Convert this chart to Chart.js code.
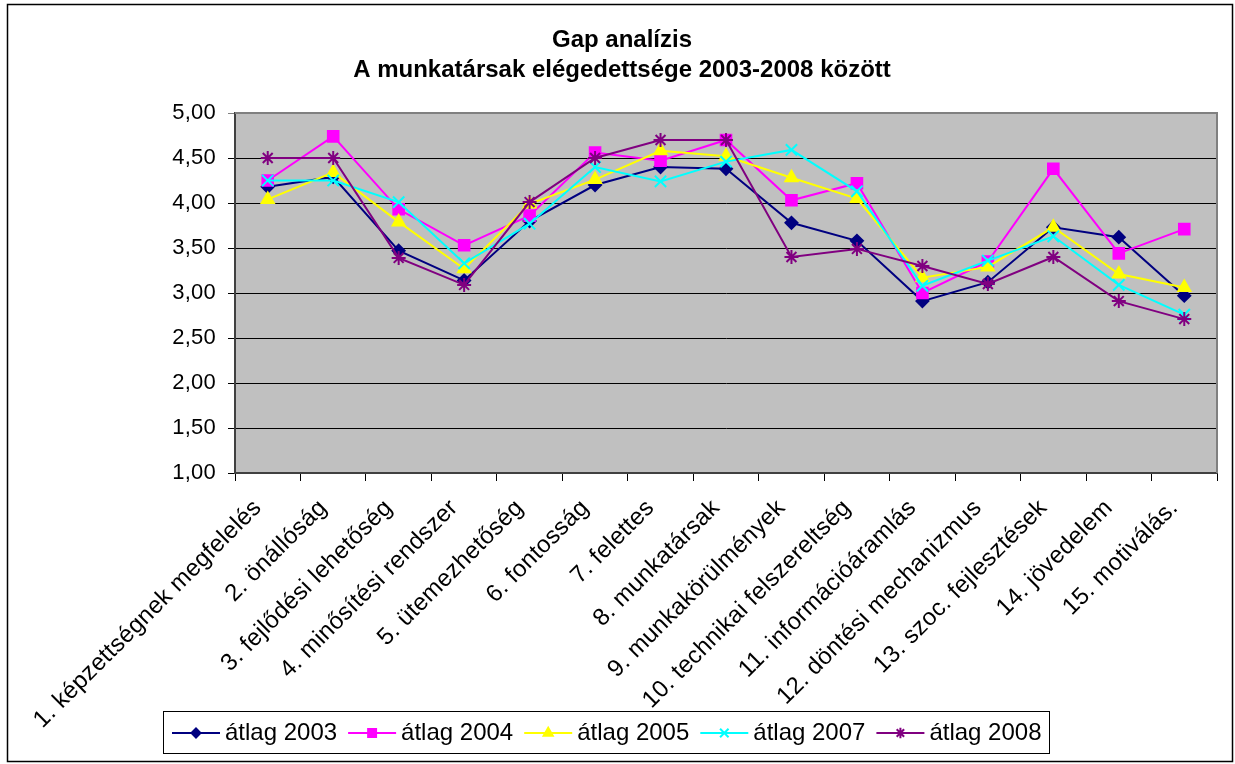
<!DOCTYPE html>
<html lang="hu">
<head>
<meta charset="utf-8">
<title>Gap analízis</title>
<script src="https://cdn.jsdelivr.net/npm/chart.js@4.4.1/dist/chart.umd.min.js"></script>
<style>
  html, body { margin: 0; padding: 0; background: #fff; }
  #wrap { width: 1235px; height: 764px; }
</style>
</head>
<body>
<div id="wrap"><canvas id="gapChart" width="1235" height="764"></canvas></div>
<script>
/* Gap analízis — munkatársi elégedettség 2003-2008 */

const categories = [
  "1. képzettségnek megfelelés", "2. önállóság", "3. fejlődési lehetőség",
  "4. minősítési rendszer", "5. ütemezhetőség", "6. fontosság", "7. felettes",
  "8. munkatársak", "9. munkakörülmények", "10. technikai felszereltség",
  "11. információáramlás", "12. döntési mechanizmus", "13. szoc. fejlesztések",
  "14. jövedelem", "15. motiválás."
];

const avg2003 = [4.18, 4.29, 3.47, 3.14, 3.80, 4.20, 4.40, 4.38, 3.78, 3.58, 2.91, 3.12, 3.73, 3.62, 2.97];
const avg2004 = [4.25, 4.74, 3.93, 3.53, 3.86, 4.56, 4.47, 4.70, 4.03, 4.22, 3.00, 3.35, 4.38, 3.44, 3.71];
const avg2005 = [4.04, 4.34, 3.79, 3.27, 3.99, 4.26, 4.58, 4.52, 4.28, 4.05, 3.17, 3.29, 3.73, 3.21, 3.06];
const avg2007 = [4.25, 4.25, 4.01, 3.33, 3.77, 4.40, 4.24, 4.46, 4.59, 4.13, 3.08, 3.36, 3.63, 3.09, 2.76];
const avg2008 = [4.50, 4.50, 3.39, 3.09, 4.01, 4.50, 4.70, 4.70, 3.40, 3.49, 3.30, 3.10, 3.40, 2.91, 2.71];

const seriesNames = ["átlag 2003", "átlag 2004", "átlag 2005", "átlag 2007", "átlag 2008"];
const yTicks = [1, 1.5, 2, 2.5, 3, 3.5, 4, 4.5, 5];
const titleLines = ["Gap analízis", "A munkatársak elégedettsége 2003-2008 között"];

const FONT = "'Liberation Sans', Arial, sans-serif";
const PLOT_BG = "#C0C0C0";

Chart.defaults.font.family = FONT;
Chart.defaults.color = "#000";

const seriesStyle = [
  { color: "#000080", point: "rectRot", radius: 6 },
  { color: "#FF00FF", point: "rect", radius: 7.5 },
  { color: "#FFFF00", point: "triangle", radius: 7 },
  { color: "#00FFFF", point: "crossRot", radius: 8 },
  { color: "#800080", point: "star", radius: 7 }
];

const seriesData = [avg2003, avg2004, avg2005, avg2007, avg2008];

const datasets = seriesData.map((values, i) => ({
  label: seriesNames[i],
  data: values,
  borderColor: seriesStyle[i].color,
  backgroundColor: seriesStyle[i].color,
  borderWidth: 2,
  pointStyle: seriesStyle[i].point,
  pointRadius: seriesStyle[i].radius,
  pointHoverRadius: seriesStyle[i].radius,
  pointBorderWidth: 2,
  pointBackgroundColor: seriesStyle[i].color,
  pointBorderColor: seriesStyle[i].color,
  tension: 0,
  order: seriesData.length - i // később felvett sorozat kerül felülre
}));

// háttér, cím, keret, szürke plot-keret, jelmagyarázat
const excelLook = {
  id: "excelLook",
  beforeDraw(chart) {
    const { ctx, chartArea: a } = chart;
    ctx.save();
    ctx.fillStyle = "#fff";
    ctx.fillRect(0, 0, chart.width, chart.height);
    ctx.fillStyle = PLOT_BG;
    ctx.fillRect(a.left, a.top, a.right - a.left, a.bottom - a.top);
    ctx.restore();
    // Excel kicsit szellősebben szedi a tengelyfeliratokat
    ctx.letterSpacing = "0.25px";
  },
  beforeDatasetsDraw(chart) {
    const { ctx, chartArea: a } = chart;
    ctx.save();
    ctx.strokeStyle = "#808080";
    ctx.lineWidth = 2;
    ctx.beginPath();
    ctx.moveTo(a.left, a.top);
    ctx.lineTo(a.right, a.top);
    ctx.lineTo(a.right, a.bottom);
    ctx.stroke();
    ctx.restore();
  },
  afterDraw(chart) {
    const { ctx } = chart;
    ctx.save();
    ctx.letterSpacing = "0px";

    // cím
    ctx.fillStyle = "#000";
    ctx.font = "bold 24px " + FONT;
    ctx.textAlign = "center";
    ctx.textBaseline = "middle";
    titleLines.forEach((t, i) => ctx.fillText(t, 622, 40 + i * 30));

    // külső keret
    ctx.strokeStyle = "#000";
    ctx.lineWidth = 1.5;
    ctx.strokeRect(7.5, 4.5, 1225, 757);

    // jelmagyarázat
    ctx.lineWidth = 1;
    ctx.strokeRect(163.5, 711.5, 886, 42);
    ctx.font = "24px " + FONT;
    ctx.textAlign = "left";
    const y = 733;
    let x = 172;
    chart.data.datasets.forEach((ds, i) => {
      const st = seriesStyle[i];
      ctx.strokeStyle = st.color;
      ctx.fillStyle = st.color;
      ctx.lineWidth = 2;
      ctx.beginPath();
      ctx.moveTo(x, y);
      ctx.lineTo(x + 48, y);
      ctx.stroke();
      Chart.helpers.drawPoint(ctx, {
        pointStyle: st.point, rotation: 0, radius: st.radius * 0.75, borderWidth: 2
      }, x + 24, y);
      ctx.fillStyle = "#000";
      ctx.fillText(ds.label, x + 53, y);
      x += 53 + ctx.measureText(ds.label).width + 11;
    });
    ctx.restore();
  }
};

new Chart(document.getElementById("gapChart"), {
  type: "line",
  data: { labels: categories, datasets },
  plugins: [excelLook],
  options: {
    responsive: false,
    animation: false,
    layout: { padding: { left: 0, right: 18, top: 113, bottom: 0 } },
    plugins: {
      legend: { display: false },
      tooltip: { enabled: false },
      title: { display: false }
    },
    scales: {
      x: {
        offset: true,
        afterFit: (s) => { s.height = 291; },
        grid: {
          offset: true,
          drawOnChartArea: false,
          color: "#000",
          tickLength: 8
        },
        border: { color: "#404040", width: 2 },
        ticks: {
          autoSkip: false,
          maxRotation: 45,
          minRotation: 45,
          padding: 13,
          labelOffset: -10,
          color: "#000",
          font: { size: 24 }
        }
      },
      y: {
        min: 1,
        max: 5,
        afterFit: (s) => { s.width = 235; },
        afterBuildTicks: (s) => { s.ticks = yTicks.map((v) => ({ value: v })); },
        grid: {
          color: (c) => (c.tick && c.tick.value === 5 ? "#808080" : "#000"),
          lineWidth: 1,
          tickLength: 7
        },
        border: { color: "#404040", width: 2 },
        ticks: {
          padding: 12,
          color: "#000",
          font: { size: 22 },
          callback: (v) => Number(v).toFixed(2).replace(".", ",")
        }
      }
    }
  }
});
</script>
</body>
</html>
